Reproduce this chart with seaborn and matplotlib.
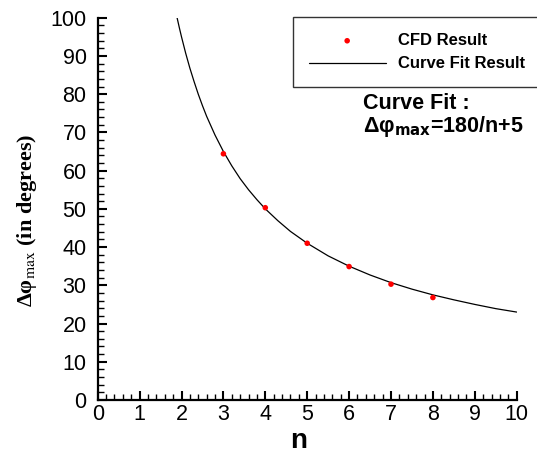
import matplotlib
matplotlib.use("Agg")
import matplotlib.pyplot as plt
from matplotlib.ticker import MultipleLocator
import seaborn as sns
import pandas as pd

# CFD points
cfd_n = [3, 4, 5, 6, 7, 8]
cfd_dphi = [64.4, 50.3, 41.0, 34.9, 30.3, 26.8]

# points along the drawn curve-fit line
fit_n = [1.88, 1.95, 2.0, 2.1, 2.2, 2.3, 2.4, 2.5, 2.6, 2.8, 3.0, 3.2, 3.4, 3.6, 3.8,
         4.0, 4.3, 4.6, 5.0, 5.5, 6.0, 6.5, 7.0, 7.5, 8.0, 8.5, 9.0, 9.5, 10.0]
fit_dphi = [100.7, 97.3, 95.0, 90.7, 86.8, 83.3, 80.0, 77.0, 74.2, 69.3, 65.0, 61.25, 57.9, 55.0, 52.4,
            50.0, 46.9, 44.1, 41.0, 37.7, 35.0, 32.7, 30.7, 29.0, 27.5, 26.2, 25.0, 23.9, 23.0]

x_ticks = list(range(0, 11))
y_ticks = list(range(0, 101, 10))

df_cfd = pd.DataFrame({"n": cfd_n, "dphi": cfd_dphi})
df_fit = pd.DataFrame({"n": fit_n, "dphi": fit_dphi})

sns.set_style("ticks")
plt.rcParams["font.family"] = ["Liberation Sans", "DejaVu Sans"]
for k in ["text.color", "axes.labelcolor", "xtick.color", "ytick.color"]:
    plt.rcParams[k] = "black"

fig = plt.figure(figsize=(5.37, 4.54), dpi=100)
ax = fig.add_axes([97.7 / 537, 1 - 400 / 454, 419 / 537, 382.3 / 454])

sns.lineplot(data=df_fit, x="n", y="dphi", ax=ax, color="black", linewidth=0.9,
             label="Curve Fit Result", sort=False, zorder=2)
sns.scatterplot(data=df_cfd, x="n", y="dphi", ax=ax, color="red", s=16,
                edgecolor="none", label="CFD Result", zorder=3)

ax.set_xlim(0, 10)
ax.set_ylim(0, 100)
ax.set_xticks(x_ticks)
ax.set_yticks(y_ticks)
ax.xaxis.set_minor_locator(MultipleLocator(0.2))
ax.yaxis.set_minor_locator(MultipleLocator(2))
ax.tick_params(which="major", direction="in", length=6.5, width=1.5, labelsize=15.5)
ax.tick_params(axis="x", which="major", pad=3)
ax.tick_params(axis="y", which="major", pad=8)
ax.tick_params(which="minor", direction="in", length=4, width=1.0)
sns.despine(ax=ax)
for s in ["left", "bottom"]:
    ax.spines[s].set_linewidth(1.6)
    ax.spines[s].set_color("black")

ax.set_xlabel("n", fontsize=20, fontweight="bold", labelpad=0)
ax.set_ylabel(r"Δφ$_{\rm max}$ (in degrees)", fontsize=16, fontweight="bold",
              family=["Liberation Serif", "DejaVu Serif"], math_fontfamily="stix")
ax.yaxis.set_label_coords(-0.14, 0.47)
ax.xaxis.set_label_coords(0.48, -0.072)

handles, labels = ax.get_legend_handles_labels()
order = [labels.index("CFD Result"), labels.index("Curve Fit Result")]
leg = ax.legend([handles[i] for i in order], [labels[i] for i in order],
                loc="upper left", bbox_to_anchor=(293 / 537, 1 - 17.3 / 454),
                bbox_transform=fig.transFigure, borderaxespad=0,
                prop={"size": 12, "weight": "bold"}, handlelength=4.6,
                handletextpad=0.75, labelspacing=0.5, borderpad=0.95,
                fancybox=False, framealpha=1, edgecolor="#333333", scatterpoints=1)
leg.get_frame().set_linewidth(1.0)

ax.text(6.32, 70.0, "Curve Fit :\nΔφ$_{\\mathbf{max}}$=180/n+5", fontsize=15.5,
        fontweight="bold", math_fontfamily="dejavusans", linespacing=1.0)

fig.savefig("out.png", dpi=100)
